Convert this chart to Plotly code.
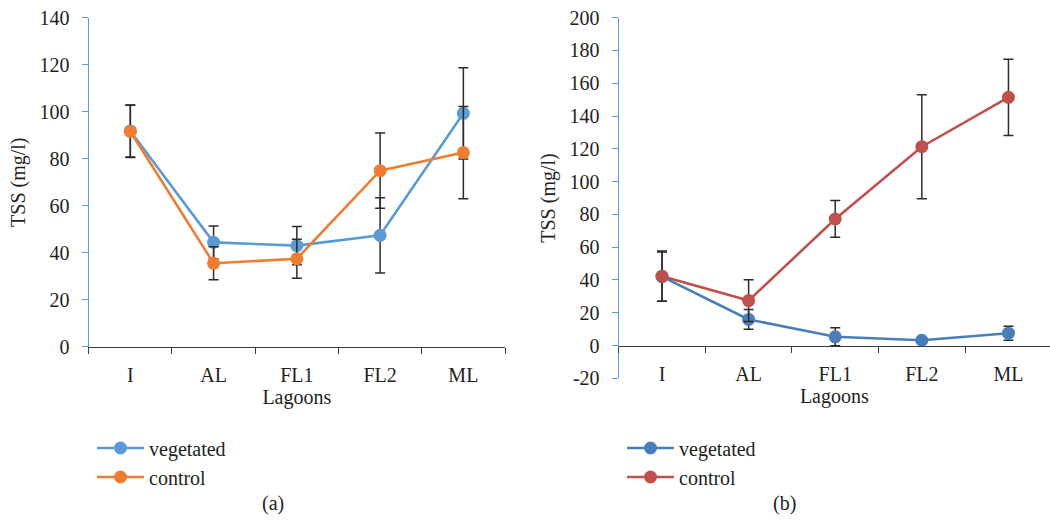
import plotly.graph_objects as go

lagoons = ["I", "AL", "FL1", "FL2", "ML"]

# Panel (a)
a_veg = [91.8, 44.4, 43.0, 47.4, 99.3]
a_veg_err = [11.1, 7.0, 8.1, 16.0, 19.4]
a_ctl = [91.6, 35.5, 37.4, 74.9, 82.6]
a_ctl_err = [11.1, 7.0, 8.3, 16.0, 19.6]
a_yticks = [0, 20, 40, 60, 80, 100, 120, 140]

# Panel (b)
b_veg = [42.0, 15.9, 5.3, 3.2, 7.5]
b_veg_err = [15.0, 6.0, 5.5, 1.0, 4.3]
b_ctl = [42.3, 27.4, 77.2, 121.3, 151.4]
b_ctl_err = [15.3, 12.8, 11.2, 31.7, 23.2]
b_yticks = [-20, 0, 20, 40, 60, 80, 100, 120, 140, 160, 180, 200]

W, H = 1050, 527
FONT = "Liberation Serif"
TXT = "#231F20"
ERR = "#2b2b2b"
AXBLUE = "#5B9BD5"
AXDARK = "#3a3a3a"

# plot areas in pixels -> paper fractions
ax_a = dict(x0=88.7, x1=505, y0=17.7, y1=346.7)
ax_b = dict(x0=618.7, x1=1050, y0=17.7, y1=378.3)

def xdom(a):
    return [a["x0"] / W, a["x1"] / W]

def ydom(a):
    return [1 - a["y1"] / H, 1 - a["y0"] / H]

a_yrange = [0, 140]
b_yrange = [-20, 200]
b_ydom = ydom(ax_b)
b_xpos = b_ydom[0] + (0 - b_yrange[0]) / (b_yrange[1] - b_yrange[0]) * (b_ydom[1] - b_ydom[0])

fig = go.Figure()

def add(x, y, err, name, color, xa, ya, leg):
    fig.add_trace(go.Scatter(
        x=x, y=y, name=name, mode="lines+markers",
        xaxis=xa, yaxis=ya, legend=leg,
        line=dict(color=color, width=2.6),
        marker=dict(color=color, size=13),
        error_y=dict(type="data", array=err, visible=True, color=ERR,
                     thickness=1.5, width=5),
    ))

add(lagoons, a_veg, a_veg_err, "vegetated", "#5B9BD5", "x", "y", "legend")
add(lagoons, a_ctl, a_ctl_err, "control", "#ED7D31", "x", "y", "legend")
add(lagoons, b_veg, b_veg_err, "vegetated", "#4A7EBB", "x2", "y2", "legend2")
add(lagoons, b_ctl, b_ctl_err, "control", "#C0504D", "x2", "y2", "legend2")

tickfont = dict(family=FONT, size=20, color=TXT)
titlefont = dict(family=FONT, size=20, color=TXT)
legfont = dict(family=FONT, size=20, color=TXT)

xcommon = dict(type="category", categoryorder="array", categoryarray=lagoons,
               tickson="boundaries", ticks="outside", ticklen=6, tickwidth=1.3,
               tickcolor=AXDARK, showline=True, linecolor=AXDARK, linewidth=1.3,
               showgrid=False, zeroline=False, tickfont=tickfont,
               ticklabelstandoff=10,
               title=dict(text="Lagoons", font=titlefont, standoff=2))
ycommon = dict(ticks="outside", ticklen=6, tickwidth=1.3, tickcolor=AXBLUE,
               showline=True, linecolor=AXBLUE, linewidth=1.3, showgrid=False,
               zeroline=False, tickfont=tickfont, tickmode="array",
               ticklabelstandoff=8,
               title=dict(text="TSS (mg/l)", font=titlefont, standoff=8))

fig.update_layout(
    width=W, height=H,
    margin=dict(l=0, r=0, t=0, b=0, autoexpand=False),
    paper_bgcolor="white", plot_bgcolor="white",
    font=dict(family=FONT, color=TXT),
    xaxis=dict(domain=xdom(ax_a), anchor="y", range=[-0.5, 4.5], **xcommon),
    yaxis=dict(domain=ydom(ax_a), anchor="x", range=a_yrange,
               tickvals=a_yticks, ticktext=[str(v) for v in a_yticks], **ycommon),
    xaxis2=dict(domain=xdom(ax_b), anchor="free", position=b_xpos,
                range=[-0.5, 4.48], **xcommon),
    yaxis2=dict(domain=b_ydom, anchor="x2", range=b_yrange,
                tickvals=b_yticks, ticktext=[str(v) for v in b_yticks], **ycommon),
    legend=dict(x=92 / W, y=1 - 428.5 / H, xanchor="left", yanchor="top",
                font=legfont, itemwidth=47,
                bgcolor="rgba(0,0,0,0)", tracegroupgap=0),
    legend2=dict(x=622 / W, y=1 - 428.5 / H, xanchor="left", yanchor="top",
                 font=legfont, itemwidth=47,
                 bgcolor="rgba(0,0,0,0)", tracegroupgap=0),
    annotations=[
        dict(text="(a)", x=260 / W, y=1 - 516.7 / H, xref="paper", yref="paper",
             showarrow=False, font=dict(family=FONT, size=20, color=TXT)),
        dict(text="(b)", x=798 / W, y=1 - 516.7 / H, xref="paper", yref="paper",
             showarrow=False, font=dict(family=FONT, size=20, color=TXT)),
    ],
)

fig.write_html("out.html", config={"displayModeBar": False},
               post_script="document.body.style.margin='0';")
